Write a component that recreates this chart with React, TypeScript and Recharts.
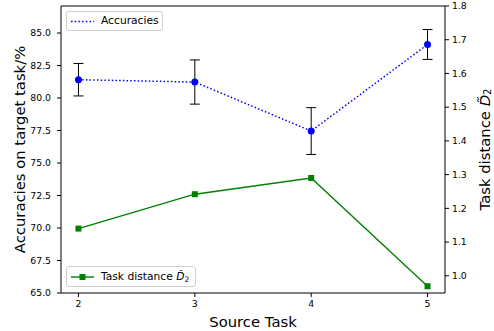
import React from 'react';
import {
  ComposedChart,
  Line,
  XAxis,
  YAxis,
  ErrorBar,
  ReferenceLine,
} from 'recharts';

const sourceTasks = [2, 3, 4, 5];
const accuracies = [81.41, 81.23, 77.46, 84.12];
const accuracyErrors = [1.25, 1.7, 1.8, 1.15];
const taskDistances = [1.14, 1.242, 1.29, 0.969];

const accTicks = [65, 67.5, 70, 72.5, 75, 77.5, 80, 82.5, 85];
const distTicks = [1.0, 1.1, 1.2, 1.3, 1.4, 1.5, 1.6, 1.7, 1.8];
const xTicks = [2, 3, 4, 5];

const data = sourceTasks.map((t, i) => ({
  task: t,
  acc: accuracies[i],
  accErr: accuracyErrors[i],
  dist: taskDistances[i],
}));

const FONT = 'DejaVu Sans, sans-serif';
const BLUE = '#0000ff';
const GREEN = '#008000';
const TOP = 87.08;

const SquareDot = (props: any) => {
  const { cx, cy } = props;
  if (cx == null || cy == null) return null;
  return <rect x={cx - 3} y={cy - 3} width={6} height={6} fill={GREEN} />;
};

const RightLabel = (props: any) => {
  const vb = props.viewBox || { x: 445, y: 6, width: 49, height: 287 };
  const cx = vb.x + 39;
  const cy = vb.y + vb.height / 2;
  return (
    <text
      transform={`translate(${cx},${cy}) rotate(-90)`}
      textAnchor="middle"
      dominantBaseline="central"
      fontFamily={FONT}
      fontSize={14.8}
      fill="#000"
    >
      Task distance{' '}
      <tspan fontStyle="italic">{'D\u0303'}</tspan>
      <tspan fontSize={10} dy={3}>2</tspan>
    </text>
  );
};

const LeftLabel = (props: any) => {
  const vb = props.viewBox || { x: 0, y: 6, width: 61, height: 287 };
  const cx = vb.x + 19;
  const cy = vb.y + vb.height / 2;
  return (
    <text
      transform={`translate(${cx},${cy}) rotate(-90)`}
      textAnchor="middle"
      dominantBaseline="central"
      fontFamily={FONT}
      fontSize={14.8}
      fill="#000"
    >
      Accuracies on target task/%
    </text>
  );
};

const BottomLabel = (props: any) => {
  const vb = props.viewBox || { x: 61, y: 293, width: 384, height: 38 };
  const cx = vb.x + vb.width / 2;
  return (
    <text
      x={cx}
      y={vb.y + 34}
      textAnchor="middle"
      fontFamily={FONT}
      fontSize={14.8}
      fill="#000"
    >
      Source Task
    </text>
  );
};

const legendBox: React.CSSProperties = {
  position: 'absolute',
  border: '1px solid #d0d0d0',
  borderRadius: 3,
  background: 'rgba(255,255,255,0.8)',
  boxSizing: 'border-box',
  fontFamily: FONT,
  fontSize: 10.7,
  color: '#000',
  pointerEvents: 'none',
};

export default function App() {
  return (
    <div style={{ position: 'absolute', left: 0, top: 0, width: 494, height: 331, background: '#fff' }}>
      <ComposedChart
        width={494}
        height={331}
        data={data}
        margin={{ top: 6, right: 0, bottom: 0, left: 0 }}
      >
        <XAxis
          dataKey="task"
          type="number"
          domain={[1.85, 5.15]}
          ticks={xTicks}
          allowDataOverflow
          height={38}
          tickSize={4}
          tickMargin={3}
          stroke="#000"
          tick={{ fontSize: 9.3, fill: '#000', fontFamily: FONT }}
          label={<BottomLabel />}
        />
        <YAxis
          yAxisId="left"
          orientation="left"
          width={61}
          domain={[65, TOP]}
          ticks={accTicks}
          allowDataOverflow
          tickFormatter={(v: number) => v.toFixed(1)}
          tickSize={4}
          tickMargin={6}
          stroke="#000"
          tick={{ fontSize: 9.3, fill: '#000', fontFamily: FONT }}
          label={<LeftLabel />}
        />
        <YAxis
          yAxisId="right"
          orientation="right"
          width={49}
          domain={[0.949, 1.8]}
          ticks={distTicks}
          allowDataOverflow
          tickFormatter={(v: number) => v.toFixed(1)}
          tickSize={4}
          tickMargin={3}
          stroke="#000"
          tick={{ fontSize: 9.3, fill: '#000', fontFamily: FONT }}
          label={<RightLabel />}
        />
        <ReferenceLine yAxisId="left" y={TOP} stroke="#000" strokeWidth={1} />
        <Line
          yAxisId="right"
          dataKey="dist"
          stroke={GREEN}
          strokeWidth={1.4}
          dot={<SquareDot />}
          activeDot={false}
          isAnimationActive={false}
        />
        <Line
          yAxisId="left"
          dataKey="acc"
          stroke={BLUE}
          strokeWidth={1.5}
          strokeDasharray="1.5 2.2"
          dot={{ r: 3.5, fill: BLUE, stroke: BLUE, strokeWidth: 0, strokeDasharray: '' }}
          activeDot={false}
          isAnimationActive={false}
        >
          <ErrorBar dataKey="accErr" width={5} stroke="#000" strokeWidth={1} direction="y" />
        </Line>
      </ComposedChart>

      <div style={{ ...legendBox, left: 66, top: 11, width: 97, height: 20 }}>
        <svg width={30} height={18} style={{ position: 'absolute', left: 3, top: 0 }}>
          <line x1={1} y1={9.5} x2={24} y2={9.5} stroke={BLUE} strokeWidth={1.5} strokeDasharray="1.5 2.2" />
        </svg>
        <span style={{ position: 'absolute', left: 34, top: 2, lineHeight: '14px' }}>Accuracies</span>
      </div>

      <div style={{ ...legendBox, left: 66, top: 266, width: 130, height: 21 }}>
        <svg width={30} height={19} style={{ position: 'absolute', left: 3, top: 0 }}>
          <line x1={1} y1={10} x2={24} y2={10} stroke={GREEN} strokeWidth={1.4} />
          <rect x={9.5} y={7} width={6} height={6} fill={GREEN} />
        </svg>
        <span style={{ position: 'absolute', left: 34, top: 2, lineHeight: '15px' }}>
          Task distance <span style={{ fontStyle: 'italic' }}>{'D\u0303'}</span>
          <sub style={{ fontSize: 7.5, verticalAlign: '-2px' }}>2</sub>
        </span>
      </div>
    </div>
  );
}
